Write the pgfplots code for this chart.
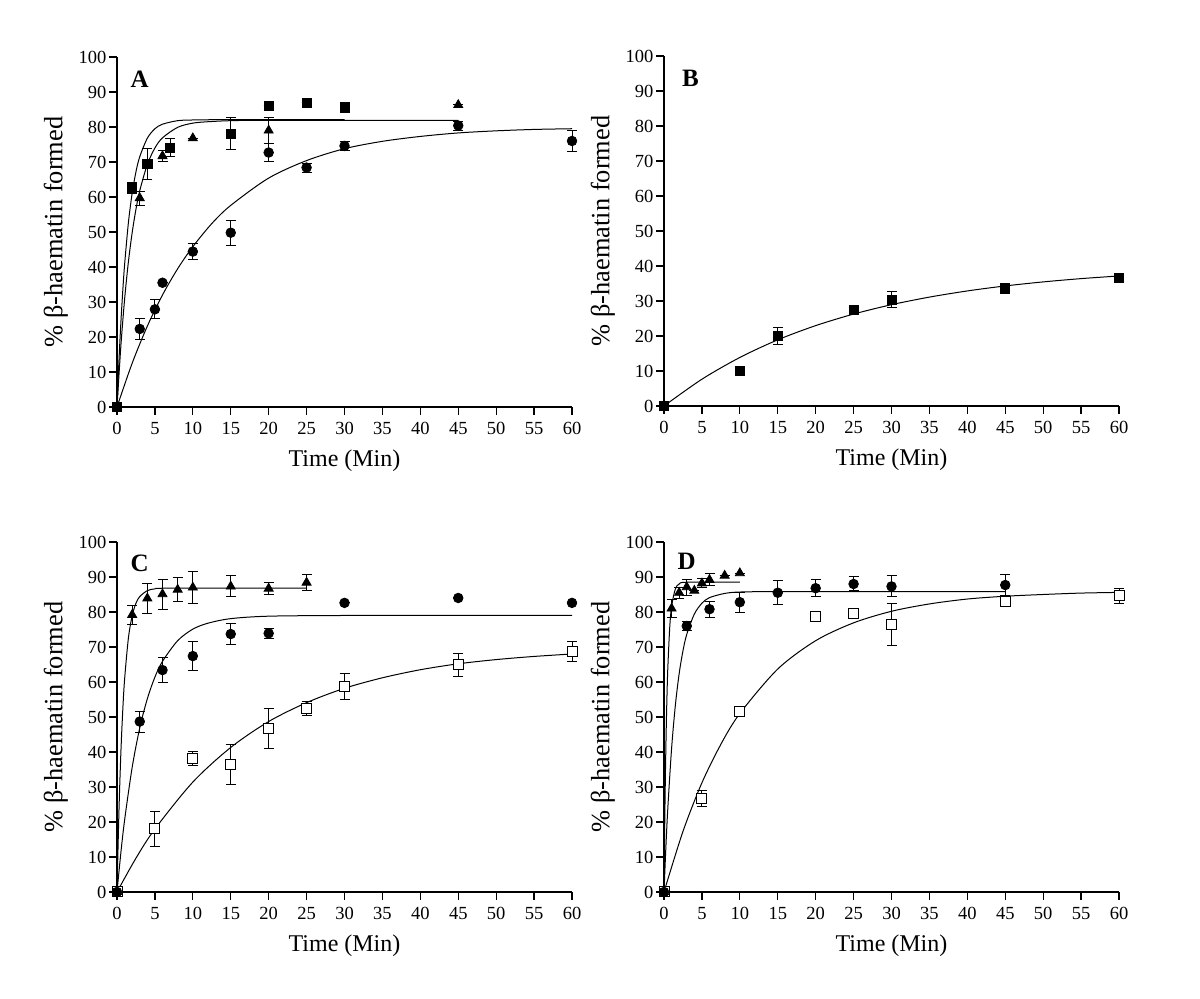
\documentclass[border=0pt]{standalone}
\usepackage{fontspec}
\setmainfont{Liberation Serif}
\usepackage{pgfplots}
\pgfplotsset{compat=1.18}

\tikzset{letter/.style={font=\bfseries\fontsize{12.5}{14}\selectfont}}
\pgfplotsset{
  panel/.style={
    scale only axis, width=227.5pt, height=175pt,
    xmin=0, xmax=60, ymin=0, ymax=100,
    axis x line*=bottom, axis y line*=left,
    xtick={0,5,...,60}, ytick={0,10,...,100},
    tick align=outside, major tick length=4pt,
    tick style={black, line width=0.6pt},
    axis line style={black, line width=0.6pt},
    tick label style={font=\fontsize{9.25}{11}\selectfont},
    yticklabel style={xshift=2.2pt},
    /pgf/number format/assume math mode=true,
    label style={font=\fontsize{12}{14}\selectfont},
    xlabel={Time (Min)},
    ylabel={\% β-haematin formed},
    xlabel style={at={(axis description cs:0.5,0)}, anchor=center, yshift=-27pt},
    ylabel style={at={(axis description cs:0,0.5)}, anchor=center, yshift=30.5pt, font=\fontsize{13.2}{15}\selectfont},
    clip=false,
  },
  fit/.style={black, line width=0.5pt, no marks, smooth},
  errs/.style={error bars/.cd, y dir=both, y explicit,
    error mark options={rotate=90, black, mark size=2.5pt, line width=0.5pt},
    error bar style={black, line width=0.5pt}},
  sq/.style={only marks, black, mark=square*, mark size=2.3pt, mark options={fill=black}, errs},
  tri/.style={only marks, black, mark=triangle*, mark size=2.6pt, mark options={fill=black}, errs},
  circ/.style={only marks, black, mark=*, mark size=2.4pt, mark options={fill=black}, errs},
  osq/.style={only marks, black, mark=square*, mark size=2.5pt, mark options={fill=white, line width=0.5pt}, errs},
}

\begin{document}
\begin{tikzpicture}
\useasboundingbox (0,0) rectangle (600pt,499.5pt);

% ---------------- A ----------------
\begin{axis}[panel, at={(58.5pt,296pt)}, anchor=south west]
\addplot[fit] coordinates {(0,0) (0.25,12.85) (0.5,23.7) (0.75,32.8) (1,40.6) (1.5,52.6) (2,61.1) (2.5,67.2) (3,71.5) (4,76.8) (5,79.5) (6,80.8) (8,81.8) (10,82.0) (15,82.1) (30,82.1)};
\addplot[fit] coordinates {(0,0) (0.5,17.1) (1,30.7) (1.5,41.4) (2,49.8) (2.5,56.5) (3,61.8) (4,69.3) (5,74.0) (6,76.9) (8,79.9) (10,81.1) (12,81.5) (15,81.8) (20,81.9) (45,81.9)};
\addplot[fit] coordinates {(0,0) (2,12.5) (4,23.1) (6,32.0) (8,39.5) (10,45.8) (12.5,52.4) (15,57.6) (20,65.4) (25,70.4) (30,73.8) (35,75.9) (40,77.3) (45,78.3) (50,78.9) (55,79.3) (60,79.5)};
\addplot[sq] table[x=x, y=y, y error=e] {
x y e
0 0 0
2 62.5 1.5
4 69.4 4.5
7 74.1 2.5
15 78.1 4.5
20 86.1 0
25 86.9 0
30 85.5 1.5
};
\addplot[tri] table[x=x, y=y, y error=e] {
x y e
0 0 0
3 59.7 2
6 71.7 1.7
10 76.8 0
20 79.0 3.8
45 86.3 0
};
\addplot[circ] table[x=x, y=y, y error=e] {
x y e
0 0 0
3 22.3 2.9
5 27.9 2.7
6 35.5 0
10 44.4 2.4
15 49.8 3.6
20 72.7 2.6
25 68.4 1.3
30 74.6 1.3
45 80.4 1.3
60 76.0 3.0
};
\node[letter] at (axis cs:3,93.6) {A};
\end{axis}

% ---------------- B ----------------
\begin{axis}[panel, at={(332pt,296.5pt)}, anchor=south west]
\addplot[fit] coordinates {(0,0) (5,7.65) (10,13.86) (15,18.9) (20,22.96) (25,26.26) (30,28.94) (35,31.11) (40,32.87) (45,34.30) (50,35.45) (55,36.39) (60,37.15)};
\addplot[sq] table[x=x, y=y, y error=e] {
x y e
0 0 0
10 10.1 1.0
15 20.1 2.4
25 27.4 0.8
30 30.3 2.3
45 33.6 0.6
60 36.5 0.8
};
\node[letter] at (axis cs:3.5,93.6) {B};
\end{axis}

% ---------------- C ----------------
\begin{axis}[panel, at={(58.5pt,53.5pt)}, anchor=south west]
\addplot[fit] coordinates {(0,0) (0.25,22.5) (0.5,39.2) (0.75,51.5) (1,60.7) (1.5,72.5) (2,78.9) (2.5,82.5) (3,84.4) (4,86.1) (5,86.6) (7,86.8) (25,86.8)};
\addplot[fit] coordinates {(0,0) (0.5,11.0) (1,20.5) (2,35.6) (3,46.9) (4,55.2) (5,61.4) (6,65.9) (8,71.8) (10,75.1) (12,76.8) (15,78.1) (20,78.8) (30,79.0) (45,79.0) (60,79.0)};
\addplot[fit] coordinates {(0,0) (2.5,9.66) (5,18.0) (10,31.4) (15,41.3) (20,48.7) (25,54.1) (30,58.2) (35,61.2) (40,63.5) (45,65.2) (50,66.4) (55,67.3) (60,68.0)};
\addplot[osq] table[x=x, y=y, y error=e] {
x y e
0 0 0
5 18.0 4.9
10 38.0 2.0
15 36.4 5.7
20 46.6 5.7
25 52.3 2.0
30 58.7 3.6
45 64.9 3.3
60 68.7 2.8
};
\addplot[tri] table[x=x, y=y, y error=e] {
x y e
0 0 0
2 79.2 2.7
4 83.9 4.3
6 85.1 4.3
8 86.4 3.5
10 87.0 4.5
15 87.3 3.0
20 86.7 1.7
25 88.4 2.2
};
\addplot[circ] table[x=x, y=y, y error=e] {
x y e
0 0 0
3 48.7 3.0
6 63.4 3.5
10 67.4 4.2
15 73.7 3.0
20 73.9 1.5
30 82.6 0
45 84.0 0
60 82.6 0
};
\node[letter] at (axis cs:3,94.0) {C};
\end{axis}

% ---------------- D ----------------
\begin{axis}[panel, at={(332pt,53.5pt)}, anchor=south west]
\addplot[fit] coordinates {(0,0) (0.1,19.9) (0.2,35.4) (0.3,47.3) (0.4,56.6) (0.5,63.8) (0.75,75.4) (1,81.6) (1.5,86.6) (2,88.0) (3,88.5) (10,88.5)};
\addplot[fit] coordinates {(0,0) (0.25,12.9) (0.5,23.8) (1,41.0) (1.5,53.4) (2,62.4) (2.5,68.9) (3,73.6) (4,79.4) (5,82.5) (6,84.1) (8,85.3) (10,85.7) (15,85.8) (45,85.8)};
\addplot[fit] coordinates {(0,0) (2.5,17.3) (5,31.2) (7.5,42.2) (10,51.0) (15,63.7) (20,71.8) (25,76.9) (30,80.2) (35,82.3) (40,83.7) (45,84.5) (50,85.0) (55,85.4) (60,85.6)};
\addplot[osq] table[x=x, y=y, y error=e] {
x y e
0 0 0
5 26.7 2.2
10 51.6 1.2
20 78.6 0
25 79.6 0
30 76.4 6.1
45 83.1 0.8
60 84.6 2.2
};
\addplot[tri] table[x=x, y=y, y error=e] {
x y e
0 0 0
1 81.0 2.6
2 85.5 1.6
3 87.1 2.3
4 86.1 0
5 88.2 1.3
6 89.2 1.7
8 90.4 0
10 91.1 0
};
\addplot[circ] table[x=x, y=y, y error=e] {
x y e
0 0 0
3 76.0 1.3
6 80.8 2.3
10 82.8 2.9
15 85.5 3.5
20 86.8 2.5
25 88.0 2.0
30 87.3 3.0
45 87.7 3.0
};
\node[letter] at (axis cs:3,94.5) {D};
\end{axis}
\end{tikzpicture}
\end{document}
